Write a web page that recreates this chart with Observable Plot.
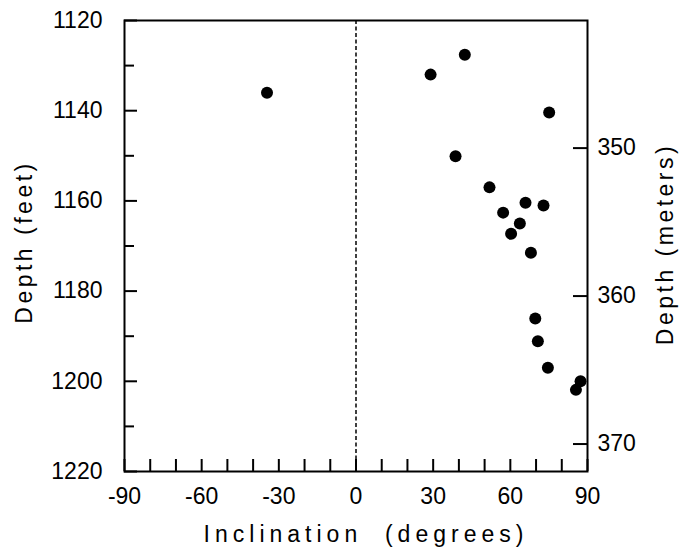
<!DOCTYPE html>
<html>
<head>
<meta charset="utf-8">
<script src="https://cdn.jsdelivr.net/npm/d3@7"></script>
<script src="https://cdn.jsdelivr.net/npm/@observablehq/plot@0.6"></script>
<style>
  html, body { margin: 0; padding: 0; background: #fff; }
  #chart { width: 681px; height: 559px; }
  .title-x text { letter-spacing: 5px; }
  .title-y text { letter-spacing: 3.5px; }
</style>
</head>
<body>
<div id="chart"></div>
<script>
// Data
const inclination = [-34.6, 29.0, 42.3, 75.1, 38.7, 51.9, 65.9, 72.9, 57.2, 63.7, 60.3, 68.0, 69.7, 70.7, 74.6, 85.5, 87.3];
const depthFeet   = [1136.0, 1132.0, 1127.6, 1140.4, 1150.1, 1157.0, 1160.4, 1161.0, 1162.6, 1165.0, 1167.3, 1171.5, 1186.1, 1191.1, 1197.0, 1201.9, 1200.0];

const xTicks = d3.range(-90, 91, 10);
const xTickLabels = [-90, -60, -30, 0, 30, 60, 90];
const feetTicks = d3.range(1120, 1221, 10);
const feetTickLabels = [1120, 1140, 1160, 1180, 1200, 1220];
const meterTickLabels = [350, 360, 370];
const FT_PER_M = 1 / 0.3048;

const xTitle = "Inclination\u00a0 (degrees)";
const yLeftTitle = "Depth (feet)";
const yRightTitle = "Depth (meters)";

const points = inclination.map((x, i) => ({x, y: depthFeet[i]}));

const chart = Plot.plot({
  width: 681,
  height: 559,
  marginLeft: 124,
  marginRight: 94,
  marginTop: 20,
  marginBottom: 88,
  style: {fontFamily: "'Liberation Sans', Arial, sans-serif", fontSize: "23px", background: "#fff", color: "#000"},
  x: {domain: [-90, 90]},
  y: {domain: [1120, 1220], reverse: true},
  marks: [
    Plot.ruleX([0], {stroke: "#000", strokeWidth: 1.5, strokeDasharray: "4,2.5"}),
    Plot.dot(points, {x: "x", y: "y", r: 6, fill: "#000", stroke: "none"}),
    // bottom axis
    Plot.axisX(xTicks, {anchor: "bottom", tickSize: -12, tickPadding: 28, strokeWidth: 2, label: null,
      tickFormat: d => xTickLabels.includes(d) ? String(d) : ""}),
    // left axis: minor and major ticks
    Plot.axisY(feetTicks.filter(d => !feetTickLabels.includes(d)), {anchor: "left", tickSize: -10, strokeWidth: 2, label: null, tickFormat: () => ""}),
    Plot.axisY(feetTickLabels, {anchor: "left", tickSize: -13, tickPadding: 35, strokeWidth: 2, label: null, tickFormat: d => String(d)}),
    // right axis in meters
    Plot.axisY(meterTickLabels.map(m => m * FT_PER_M), {anchor: "right", tickSize: -15, tickPadding: 25, strokeWidth: 2, label: null,
      tickFormat: d => String(Math.round(d / FT_PER_M))}),
    Plot.frame({stroke: "#000", strokeWidth: 2}),
    // titles
    Plot.text([xTitle], {frameAnchor: "bottom", text: d => d, dx: 10, dy: 63, lineAnchor: "middle", textAnchor: "middle", fontSize: 23, className: "title-x"}),
    Plot.text([yLeftTitle], {frameAnchor: "left", text: d => d, dx: -100, dy: -4, rotate: -90, lineAnchor: "middle", textAnchor: "middle", fontSize: 23, className: "title-y"}),
    Plot.text([yRightTitle], {frameAnchor: "right", text: d => d, dx: 78, dy: -2, rotate: -90, lineAnchor: "middle", textAnchor: "middle", fontSize: 23, className: "title-y"})
  ]
});
document.getElementById("chart").appendChild(chart);
</script>
</body>
</html>
